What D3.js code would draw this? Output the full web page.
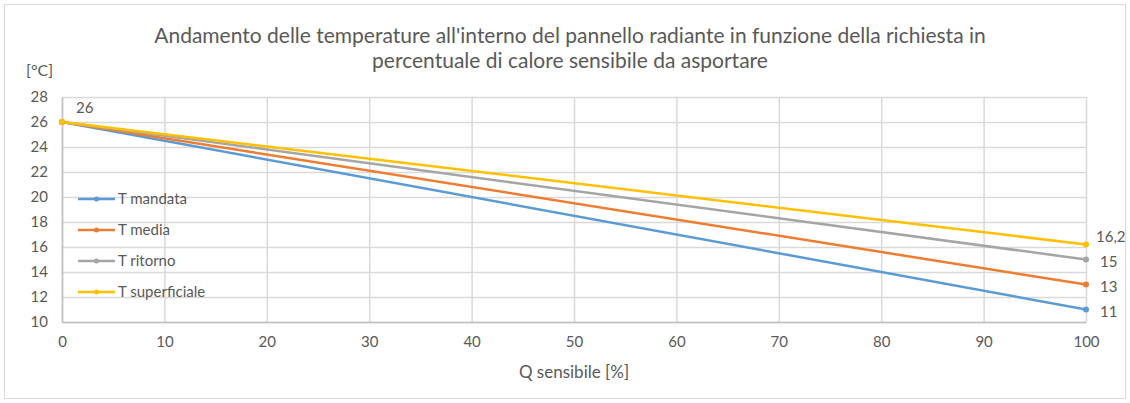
<!DOCTYPE html>
<html>
<head>
<meta charset="utf-8">
<script src="https://cdn.jsdelivr.net/npm/d3@7"></script>
<style>
  body { margin: 0; background: #fff; }
  text { font-family: Lato, "Open Sans", sans-serif; fill: #595959; }
</style>
</head>
<body>
<svg class="chart"></svg>
<script>
const xValues = [0, 100];
const mandata = [26, 11];
const media = [26, 13];
const ritorno = [26, 15];
const superficiale = [26, 16.2];
const seriesNames = ["T mandata", "T media", "T ritorno", "T superficiale"];
const seriesColors = ["#5B9BD5", "#ED7D31", "#A5A5A5", "#FFC000"];
const endLabels = ["11", "13", "15", "16,2"];
const xTicks = d3.range(0, 101, 10);
const yTicks = d3.range(10, 29, 2);

const W = 1130, H = 403;
const margin = {top: 97, right: 44, bottom: 81, left: 62};
const width = W - margin.left - margin.right,
    height = H - margin.top - margin.bottom;

const root = d3.select(".chart").attr("width", W).attr("height", H);

root.append("rect")
    .attr("x", 4.5).attr("y", 4.5)
    .attr("width", W - 9).attr("height", H - 9)
    .attr("fill", "#fff").attr("stroke", "#d9d9d9");

const svg = root.append("g")
    .attr("transform", `translate(${margin.left}, ${margin.top})`);

const x = d3.scaleLinear().domain([0, 100]).range([0, width]);
const y = d3.scaleLinear().domain([10, 28]).range([height, 0]);

// grid
svg.append("g").selectAll("line").data(yTicks).join("line")
    .attr("x1", 0).attr("x2", width)
    .attr("y1", d => y(d) + 0.5).attr("y2", d => y(d) + 0.5)
    .attr("stroke", "#d9d9d9").attr("stroke-width", 1.5);
svg.append("g").selectAll("line").data(xTicks).join("line")
    .attr("y1", 0).attr("y2", height)
    .attr("x1", d => x(d) + 0.5).attr("x2", d => x(d) + 0.5)
    .attr("stroke", "#d9d9d9").attr("stroke-width", 1.5);

// axes
const xAxis = svg.append("g")
    .attr("transform", `translate(0,${height})`)
    .call(d3.axisBottom(x).tickValues(xTicks).tickSize(0).tickPadding(14));
const yAxis = svg.append("g")
    .call(d3.axisLeft(y).tickValues(yTicks).tickSize(0).tickPadding(14));
[xAxis, yAxis].forEach(a => {
    a.select(".domain").attr("stroke", "#bfbfbf").attr("stroke-width", 1.5);
    a.selectAll("text").attr("font-size", 15).attr("fill", "#595959")
        .style("font-family", "Lato, 'Open Sans', sans-serif");
});

// lines
const all = [mandata, media, ritorno, superficiale];
const lineGen = d3.line().x((d, i) => x(xValues[i])).y(d => y(d));
all.forEach((vals, k) => {
    svg.append("path")
        .datum(vals)
        .attr("fill", "none")
        .attr("stroke", seriesColors[k])
        .attr("stroke-width", 2.5)
        .attr("d", lineGen);
    svg.append("g").selectAll("circle").data(vals).join("circle")
        .attr("cx", (d, i) => x(xValues[i]))
        .attr("cy", d => y(d))
        .attr("r", 3)
        .attr("fill", seriesColors[k]);
    const long = endLabels[k].length > 2;
    svg.append("text")
        .attr("x", x(100) + (long ? 10 : 14))
        .attr("y", y(vals[1]) + (long ? -3 : 7))
        .attr("font-size", 15)
        .text(endLabels[k]);
});

svg.append("text")
    .attr("x", x(0) + 14).attr("y", y(26) - 9)
    .attr("font-size", 15)
    .text("26");

// legend
const legend = svg.append("g").attr("transform", "translate(16, 102)");
seriesNames.forEach((n, k) => {
    const g = legend.append("g").attr("transform", `translate(0, ${k * 31})`);
    g.append("line").attr("x1", 0).attr("x2", 37).attr("y1", 0).attr("y2", 0)
        .attr("stroke", seriesColors[k]).attr("stroke-width", 2.5);
    g.append("circle").attr("cx", 18.5).attr("cy", 0).attr("r", 2.5).attr("fill", seriesColors[k]);
    g.append("text").attr("x", 40).attr("y", 5).attr("font-size", 15).text(n);
});

// titles
root.append("text")
    .attr("x", 570).attr("y", 43)
    .attr("text-anchor", "middle").attr("font-size", 21)
    .text("Andamento delle temperature all'interno del pannello radiante in funzione della richiesta in");
root.append("text")
    .attr("x", 570).attr("y", 68)
    .attr("text-anchor", "middle").attr("font-size", 21)
    .text("percentuale di calore sensibile da asportare");
root.append("text")
    .attr("x", 26).attr("y", 76)
    .attr("font-size", 16)
    .text("[°C]");
root.append("text")
    .attr("x", margin.left + width / 2).attr("y", 378)
    .attr("text-anchor", "middle").attr("font-size", 17)
    .text("Q sensibile [%]");
</script>
</body>
</html>
